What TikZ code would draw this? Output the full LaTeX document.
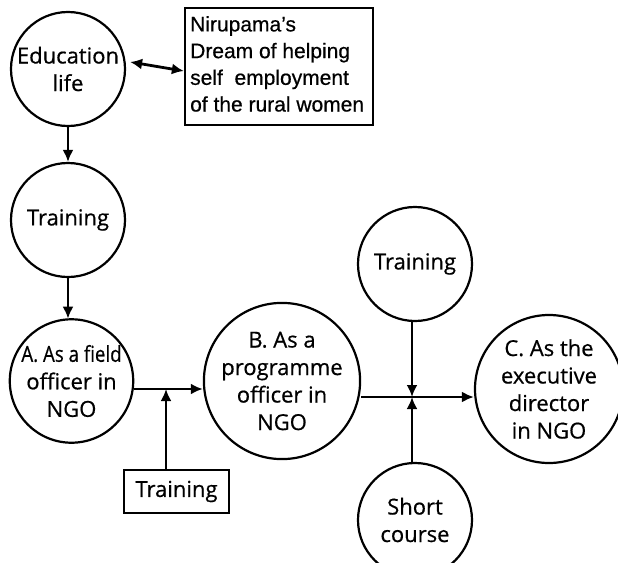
\documentclass[tikz,border=0pt]{standalone}
\usepackage{fontspec}
\setmainfont[FakeBold=0.6]{Open Sans}
\newfontfamily\boxfont[FakeBold=0.6]{Liberation Sans}
\usetikzlibrary{arrows.meta,calc}
\begin{document}
\begin{tikzpicture}[x=1pt,y=-1pt,
  circ/.style={circle,draw,line width=2.2pt,fill=white,inner sep=0pt,align=center,
    font=\fontsize{22}{27.5}\selectfont},
  tip/.tip={Latex[length=12pt,width=11pt]},
  conn/.style={line width=2.8pt,-tip},
  boxnode/.style={draw,line width=2.2pt,inner sep=0pt}]
\useasboundingbox (0,0) rectangle (618,562);
\node[circ,minimum size=114pt] (E) at (68,69) {Education\\life};
\node[boxnode,minimum width=188pt,minimum height=117pt] (D) at (279,66.5) {};
\node[anchor=north west,align=left,inner sep=0pt,font=\boxfont\fontsize{21}{26.7}\selectfont] (DT) at (190,16)
  {Nirupama’s\\Dream of helping\\self~ employment\\of the rural women};
\node[circ,minimum size=114pt] (T1) at (68,220) {Training};
\node[circ,minimum size=117pt] (A) at (71.5,381) {\scalebox{0.85}[1]{A. As a field}\\officer in\\NGO};
\node[circ,minimum size=150pt] (B) at (282,381) {B. As a\\programme\\officer in\\NGO};
\node[circ,minimum size=114pt] (T2) at (415,264) {Training};
\node[circ,minimum size=148pt] (C) at (549,389) {C. As the\\executive\\director\\in NGO};
\node[circ,minimum size=114pt] (S) at (415,520) {Short\\course};
\node[boxnode,minimum width=105pt,minimum height=43pt,font=\fontsize{22}{27}\selectfont] (TB) at (176.5,491.5) {Training};
\coordinate (J1) at (166,389);
\coordinate (J2) at (412,397);
\draw[line width=2.8pt,tip-tip]
  ([shift={(4,-7)}]E.east) -- ([yshift=-4.5]D.west);
\draw[conn] (E.south) -- (T1.north);
\draw[conn] (T1.south) -- ([yshift=-0.5]T1.south |- A.north);
\draw[conn] (A.east |- J1) -- (B.west |- J1);
\draw[conn] (TB.north -| J1) -- (J1);
\draw[conn] (B.east |- J2) -- (C.west |- J2);
\draw[conn] (T2.south -| J2) -- (J2);
\draw[conn] (S.north -| J2) -- (J2);
\end{tikzpicture}
\end{document}
